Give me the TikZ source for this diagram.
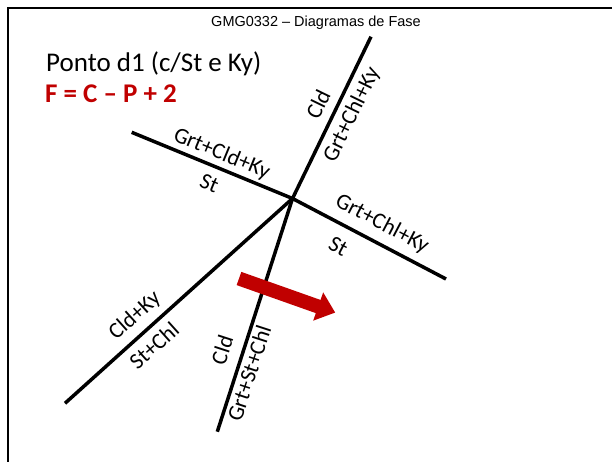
\documentclass[tikz,border=0pt]{standalone}
\usepackage{fontspec}
\setmainfont{Carlito}
\newfontfamily\hdrfont{Liberation Sans}
\definecolor{darkred}{HTML}{C00000}
\begin{document}
\begin{tikzpicture}[x=1pt,y=-1pt,
  phaseline/.style={line width=3.5pt,line cap=butt},
  lbl/.style={inner sep=0pt,font=\fontsize{22.5}{26}\selectfont},
  frameline/.style={line width=2pt}]
\useasboundingbox (0,0) rectangle (612,462);
\draw[frameline] (8,470) -- (8,8) -- (620,8);
\node[font=\hdrfont\fontsize{14.5}{16}\selectfont,inner sep=0pt,anchor=base] (hdr) at (316,26.5) {GMG0332 – Diagramas de Fase};
\node[font=\fontsize{27}{30}\selectfont,inner sep=0pt,anchor=base west] (ponto) at (46,71.7) {Ponto d1 (c/St e Ky)};
\node[font=\bfseries\fontsize{27}{30}\selectfont,text=darkred,inner sep=0pt,anchor=base west] (eq) at (45,102.7) {F = C – P + 2};
% invariant point and line ends
\coordinate (c) at (292.5,198.5);
\coordinate (top) at (371,36.7);
\coordinate (left) at (131.7,132.3);
\coordinate (right) at (446,279);
\coordinate (ll) at (65,403.3);
\coordinate (bot) at (217.3,431.7);
\draw[phaseline] (c) -- (top);
\draw[phaseline] (c) -- (left);
\draw[phaseline] (c) -- (right);
\draw[phaseline] (c) -- (ll);
\draw[phaseline] (c) -- (bot);
% labels
\node[lbl,rotate=64] (l1) at (318,104) {Cld};
\node[lbl,rotate=64] (l2) at (352,115) {Grt+Chl+Ky};
\node[lbl,rotate=-22.4] (l3) at (221.7,154) {Grt+Cld+Ky};
\node[lbl,rotate=-22.4] (l4) at (209.3,183.3) {St};
\node[lbl,rotate=-27.7] (l5) at (382,224) {Grt+Chl+Ky};
\node[lbl,rotate=-27.7] (l6) at (338.3,246.7) {St};
\node[lbl,rotate=42] (l7) at (135,316) {Cld+Ky};
\node[lbl,rotate=42] (l8) at (154,345.5) {St+Chl};
\node[lbl,rotate=72] (l9) at (222,350) {Cld};
\node[lbl,rotate=72] (l10) at (249,373.3) {Grt+St+Chl};
% red arrow
\fill[darkred,shift={(239,278.5)},rotate=-19.5] (0,7) -- (84,7) -- (84,15) -- (102,0) -- (84,-15) -- (84,-7) -- (0,-7) -- cycle;
\end{tikzpicture}
\end{document}
